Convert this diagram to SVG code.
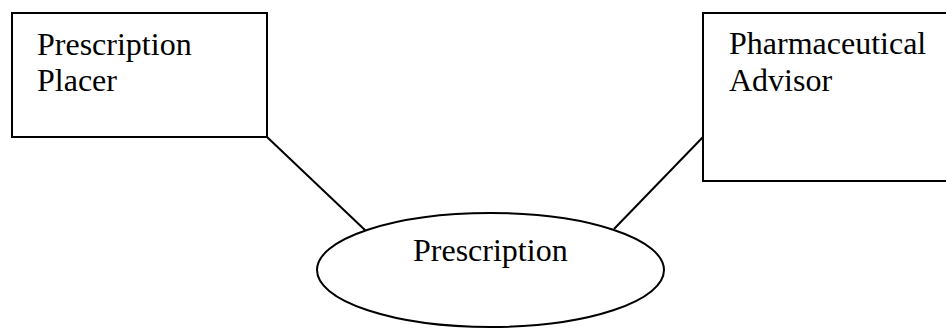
<svg xmlns="http://www.w3.org/2000/svg" width="946" height="328" viewBox="0 0 946 328">
<style>
.shape{fill:#fff;stroke:#000;stroke-width:2}
.lbl{font-family:"Liberation Serif","Times New Roman",serif;font-size:32px;fill:#000}
.conn{stroke:#000;stroke-width:2;fill:none}
</style>
<rect width="946" height="328" fill="#fff"/>
<g id="connectors">
<line class="conn" x1="267" y1="137" x2="366" y2="231"/>
<line class="conn" x1="703" y1="137" x2="614" y2="229"/>
</g>
<g id="prescription-placer">
<rect class="shape" x="12" y="13" width="255" height="124"/>
<text class="lbl" x="37" y="55">Prescription</text>
<text class="lbl" x="37" y="91">Placer</text>
</g>
<g id="pharmaceutical-advisor">
<rect class="shape" x="703" y="13" width="250" height="168"/>
<text class="lbl" x="729" y="54">Pharmaceutical</text>
<text class="lbl" x="729" y="91">Advisor</text>
</g>
<g id="prescription">
<ellipse class="shape" cx="490.5" cy="270" rx="173.5" ry="57"/>
<text class="lbl" x="413" y="261">Prescription</text>
</g>
</svg>
